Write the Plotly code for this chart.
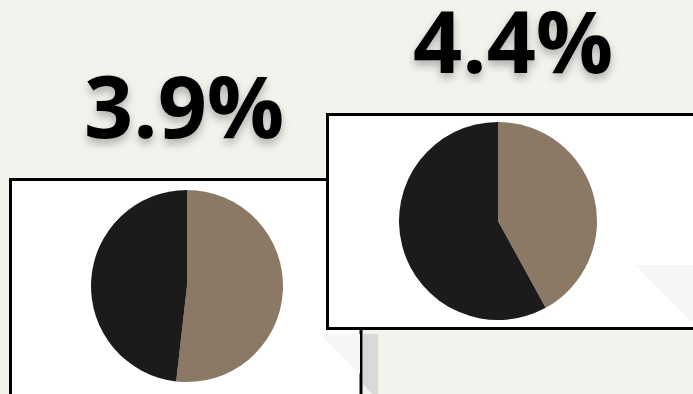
import plotly.graph_objects as go

W, H = 693, 394

# Data
labels = ["Share A", "Share B"]
left_values = [51.8, 48.2]
right_values = [42.0, 58.0]
left_title = "3.9%"
right_title = "4.4%"

BG = "#f3f2ed"
BROWN = "#8b7966"
BLACK = "#1b1b1b"

def px(x):
    return x / W

def py(y):
    return 1 - y / H

def path(points):
    s = "M " + " L ".join(f"{px(x):.5f},{py(y):.5f}" for x, y in points) + " Z"
    return s

fig = go.Figure()

fig.add_trace(go.Pie(
    labels=labels, values=left_values, sort=False, direction="clockwise", rotation=0,
    marker=dict(colors=[BROWN, BLACK], line=dict(width=0)),
    textinfo="none", hoverinfo="skip", showlegend=False,
    domain=dict(x=[px(91), px(283)], y=[py(382), py(190)]),
))
fig.add_trace(go.Pie(
    labels=labels, values=right_values, sort=False, direction="clockwise", rotation=0,
    marker=dict(colors=[BROWN, BLACK], line=dict(width=0)),
    textinfo="none", hoverinfo="skip", showlegend=False,
    domain=dict(x=[px(399), px(597)], y=[py(320), py(122)]),
))

shapes = [
    # left box
    dict(type="rect", xref="paper", yref="paper", x0=px(10.5), x1=px(361), y0=py(179.5), y1=py(430),
         fillcolor="white", line=dict(color="black", width=3), layer="below"),
    # faint triangle in left box
    dict(type="path", xref="paper", yref="paper", path=path([(320, 334), (360, 334), (360, 374)]),
         fillcolor="#f5f6f8", line=dict(width=0), layer="below"),
    # grey curl
    dict(type="path", xref="paper", yref="paper",
         path=path([(363, 334), (378, 334), (378, 394), (372, 394), (363, 384)]),
         fillcolor="#d9d9d9", line=dict(width=0), layer="below"),
    # right box
    dict(type="rect", xref="paper", yref="paper", x0=px(327.5), x1=px(720), y0=py(328.5), y1=py(114.5),
         fillcolor="white", line=dict(color="black", width=3), layer="below"),
    # faint triangle in right box
    dict(type="path", xref="paper", yref="paper", path=path([(635, 265), (693, 265), (693, 323)]),
         fillcolor="#f5f6f8", line=dict(width=0), layer="below"),
]

shadow = "0px 5px 9px rgba(0,0,0,0.28)"
FONT = dict(family="Open Sans", size=86, color="black", weight=700, shadow=shadow)
annotations = [
    dict(text=left_title, x=px(183.5), y=py(104), xref="paper", yref="paper",
         xanchor="center", yanchor="middle", showarrow=False, font=FONT),
    dict(text=right_title, x=px(512.5), y=py(39.5), xref="paper", yref="paper",
         xanchor="center", yanchor="middle", showarrow=False, font=FONT),
]

fig.update_layout(
    width=W, height=H, margin=dict(l=0, r=0, t=0, b=0),
    paper_bgcolor=BG, plot_bgcolor=BG,
    shapes=shapes, annotations=annotations, showlegend=False,
)

fig.write_html("out.html", config={"displayModeBar": False})
